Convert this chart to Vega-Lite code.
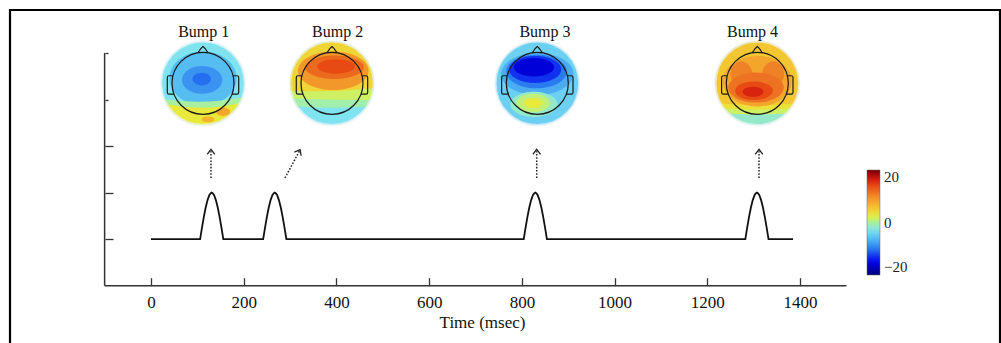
{
  "$schema": "https://vega.github.io/schema/vega-lite/v6.json",
  "width": 990,
  "height": 335,
  "autosize": {"type": "none"},
  "padding": {"left": 10, "top": 10, "right": 1, "bottom": -2},
  "background": "white",
  "config": {"view": {"stroke": "#000", "strokeWidth": 2.2}, "font": "Liberation Serif"},
  "datasets": {
    "axisLines": [
      {"t": -100, "t2": 1500, "v": 0, "v2": 0},
      {"t": -100, "t2": -100, "v": 0, "v2": 5}
    ],
    "eeg": [
      {"t": 0, "v": 1},
      {"t": 106, "v": 1}, {"t": 110, "v": 1.25}, {"t": 114, "v": 1.48}, {"t": 118, "v": 1.68}, {"t": 122, "v": 1.84}, {"t": 126, "v": 1.95}, {"t": 129, "v": 1.99}, {"t": 131, "v": 2}, {"t": 133, "v": 1.99}, {"t": 136, "v": 1.95}, {"t": 140, "v": 1.84}, {"t": 144, "v": 1.68}, {"t": 148, "v": 1.48}, {"t": 152, "v": 1.25}, {"t": 156, "v": 1},
      {"t": 242, "v": 1}, {"t": 246, "v": 1.25}, {"t": 250, "v": 1.48}, {"t": 254, "v": 1.68}, {"t": 258, "v": 1.84}, {"t": 262, "v": 1.95}, {"t": 265, "v": 1.99}, {"t": 267, "v": 2}, {"t": 269, "v": 1.99}, {"t": 272, "v": 1.95}, {"t": 276, "v": 1.84}, {"t": 280, "v": 1.68}, {"t": 284, "v": 1.48}, {"t": 288, "v": 1.25}, {"t": 292, "v": 1},
      {"t": 804, "v": 1}, {"t": 808, "v": 1.25}, {"t": 812, "v": 1.48}, {"t": 816, "v": 1.68}, {"t": 820, "v": 1.84}, {"t": 824, "v": 1.95}, {"t": 827, "v": 1.99}, {"t": 829, "v": 2}, {"t": 831, "v": 1.99}, {"t": 834, "v": 1.95}, {"t": 838, "v": 1.84}, {"t": 842, "v": 1.68}, {"t": 846, "v": 1.48}, {"t": 850, "v": 1.25}, {"t": 854, "v": 1},
      {"t": 1282, "v": 1}, {"t": 1286, "v": 1.25}, {"t": 1290, "v": 1.48}, {"t": 1294, "v": 1.68}, {"t": 1298, "v": 1.84}, {"t": 1302, "v": 1.95}, {"t": 1305, "v": 1.99}, {"t": 1307, "v": 2}, {"t": 1309, "v": 1.99}, {"t": 1312, "v": 1.95}, {"t": 1316, "v": 1.84}, {"t": 1320, "v": 1.68}, {"t": 1324, "v": 1.48}, {"t": 1328, "v": 1.25}, {"t": 1332, "v": 1},
      {"t": 1385, "v": 1}
    ],
    "arrows": [
      {"bump": "Bump 1", "t": 129.4, "v": 2.314, "t2": 129.4, "v2": 2.89},
      {"bump": "Bump 2", "t": 289.0, "v": 2.314, "t2": 320.0, "v2": 2.89},
      {"bump": "Bump 3", "t": 832.0, "v": 2.314, "t2": 832.0, "v2": 2.89},
      {"bump": "Bump 4", "t": 1311.5, "v": 2.314, "t2": 1311.5, "v2": 2.89}
    ],
    "tips": [
      {"bump": "Bump 1", "t": 129.4, "v": 2.93, "dir": "up"},
      {"bump": "Bump 2", "t": 321.6, "v": 2.925, "dir": "diag"},
      {"bump": "Bump 3", "t": 832.0, "v": 2.93, "dir": "up"},
      {"bump": "Bump 4", "t": 1311.5, "v": 2.93, "dir": "up"}
    ],
    "heads": [
      {"bump": "Bump 1", "t": 112.2, "v": 4.349},
      {"bump": "Bump 2", "t": 390.4, "v": 4.349},
      {"bump": "Bump 3", "t": 833.3, "v": 4.349},
      {"bump": "Bump 4", "t": 1307.8, "v": 4.349}
    ],
    "labels": [
      {"label": "Bump 1", "t": 113.7, "v": 5.344},
      {"label": "Bump 2", "t": 402.7, "v": 5.344},
      {"label": "Bump 3", "t": 849.9, "v": 5.344},
      {"label": "Bump 4", "t": 1297.5, "v": 5.344}
    ],
    "maps": [
      {"bump": "Bump 1", "t": 112.2, "v": 4.349, "region": "disc", "amp": -3},
      {"bump": "Bump 1", "t": 112.2, "v": 4.349, "region": "b1b", "amp": -6},
      {"bump": "Bump 1", "t": 112.2, "v": 4.349, "region": "b1c", "amp": -8.5},
      {"bump": "Bump 1", "t": 112.2, "v": 4.349, "region": "b1d", "amp": -10.5},
      {"bump": "Bump 1", "t": 112.2, "v": 4.349, "region": "b1e", "amp": 0},
      {"bump": "Bump 1", "t": 112.2, "v": 4.349, "region": "b1f", "amp": 3},
      {"bump": "Bump 1", "t": 112.2, "v": 4.349, "region": "b1g", "amp": 8},
      {"bump": "Bump 1", "t": 112.2, "v": 4.349, "region": "b1h", "amp": 7},
      {"bump": "Bump 2", "t": 390.4, "v": 4.349, "region": "disc", "amp": -3},
      {"bump": "Bump 2", "t": 390.4, "v": 4.349, "region": "b2b", "amp": -0.5},
      {"bump": "Bump 2", "t": 390.4, "v": 4.349, "region": "b2c", "amp": 1.5},
      {"bump": "Bump 2", "t": 390.4, "v": 4.349, "region": "b2d", "amp": 4.5},
      {"bump": "Bump 2", "t": 390.4, "v": 4.349, "region": "b2e", "amp": 9},
      {"bump": "Bump 2", "t": 390.4, "v": 4.349, "region": "b2f", "amp": 12},
      {"bump": "Bump 2", "t": 390.4, "v": 4.349, "region": "b2g", "amp": 14},
      {"bump": "Bump 3", "t": 833.3, "v": 4.349, "region": "disc", "amp": -4.5},
      {"bump": "Bump 3", "t": 833.3, "v": 4.349, "region": "b3b", "amp": -7},
      {"bump": "Bump 3", "t": 833.3, "v": 4.349, "region": "b3c", "amp": -10},
      {"bump": "Bump 3", "t": 833.3, "v": 4.349, "region": "b3d", "amp": -13},
      {"bump": "Bump 3", "t": 833.3, "v": 4.349, "region": "b3e", "amp": -16},
      {"bump": "Bump 3", "t": 833.3, "v": 4.349, "region": "b3f", "amp": -1.5},
      {"bump": "Bump 3", "t": 833.3, "v": 4.349, "region": "b3g", "amp": 1},
      {"bump": "Bump 3", "t": 833.3, "v": 4.349, "region": "b3h", "amp": 3},
      {"bump": "Bump 4", "t": 1307.8, "v": 4.349, "region": "disc", "amp": -1.5},
      {"bump": "Bump 4", "t": 1307.8, "v": 4.349, "region": "b4b", "amp": 1.5},
      {"bump": "Bump 4", "t": 1307.8, "v": 4.349, "region": "b4c", "amp": 3.5},
      {"bump": "Bump 4", "t": 1307.8, "v": 4.349, "region": "b4d", "amp": 5.5},
      {"bump": "Bump 4", "t": 1307.8, "v": 4.349, "region": "b4e", "amp": 8},
      {"bump": "Bump 4", "t": 1307.8, "v": 4.349, "region": "b4l1", "amp": 10.5},
      {"bump": "Bump 4", "t": 1307.8, "v": 4.349, "region": "b4l2", "amp": 10.5},
      {"bump": "Bump 4", "t": 1307.8, "v": 4.349, "region": "b4f", "amp": 11.5},
      {"bump": "Bump 4", "t": 1307.8, "v": 4.349, "region": "b4g", "amp": 14},
      {"bump": "Bump 4", "t": 1307.8, "v": 4.349, "region": "b4h", "amp": 16}
    ]
  },
  "encoding": {
    "x": {
      "field": "t", "type": "quantitative",
      "scale": {"domain": [-304.1, 1831.3], "nice": false, "zero": false},
      "axis": {
        "orient": "bottom", "offset": -59.3, "values": [0, 200, 400, 600, 800, 1000, 1200, 1400], "format": "d",
        "domain": false, "grid": false, "tickSize": -8, "tickWidth": 1.3, "tickColor": "#333",
        "labelFont": "Liberation Serif", "labelFontSize": 17, "labelColor": "#111", "labelPadding": 17, "labelFlush": false,
        "title": "Time (msec)", "titleFont": "Liberation Serif", "titleFontSize": 17, "titleFontWeight": "normal", "titleColor": "#111",
        "titleX": 472, "titleY": 42, "titleBaseline": "alphabetic"
      }
    },
    "y": {
      "field": "v", "type": "quantitative",
      "scale": {"domain": [-1.274, 5.924], "nice": false, "zero": false},
      "axis": {
        "orient": "left", "offset": -95, "values": [1, 2, 3, 4, 5], "labels": false, "domain": false, "grid": false, "title": null,
        "tickSize": {"condition": {"test": "datum.value >= 4", "value": -3}, "value": -8}, "tickWidth": 1.3, "tickColor": "#333"
      }
    }
  },
  "layer": [
    {
      "data": {"name": "axisLines"},
      "mark": {"type": "rule", "color": "#333", "strokeWidth": 1.5},
      "encoding": {"x2": {"field": "t2"}, "y2": {"field": "v2"}}
    },
    {
      "data": {"name": "eeg"},
      "mark": {"type": "line", "color": "#111", "strokeWidth": 1.8},
      "encoding": {}
    },
    {
      "data": {"name": "arrows"},
      "mark": {"type": "rule", "color": "#222", "strokeWidth": 1.5, "strokeDash": [1.6, 1.6]},
      "encoding": {"x2": {"field": "t2"}, "y2": {"field": "v2"}}
    },
    {
      "data": {"name": "tips"},
      "transform": [{"filter": "datum.dir === 'up'"}],
      "mark": {"type": "point", "shape": "M-1,1.3 L0,0 L1,1.3", "filled": false, "size": 58, "stroke": "#222", "strokeWidth": 1.3, "opacity": 1},
      "encoding": {}
    },
    {
      "data": {"name": "tips"},
      "transform": [{"filter": "datum.dir === 'diag'"}],
      "mark": {"type": "point", "shape": "M-1,1.3 L0,0 L1,1.3", "filled": false, "size": 58, "stroke": "#222", "strokeWidth": 1.3, "angle": 28, "opacity": 1},
      "encoding": {}
    },
    {
      "data": {"name": "maps"},
      "mark": {"type": "point", "filled": true, "size": 7056, "strokeWidth": 0, "opacity": 1},
      "encoding": {
        "shape": {
          "field": "region", "type": "nominal", "legend": null,
          "scale": {
            "domain": ["disc", "b1b", "b1c", "b1d", "b1e", "b1f", "b1g", "b1h", "b2b", "b2c", "b2d", "b2e", "b2f", "b2g", "b3b", "b3c", "b3d", "b3e", "b3f", "b3g", "b3h", "b4b", "b4c", "b4d", "b4e", "b4l1", "b4l2", "b4f", "b4g", "b4h"],
            "range": [
              "M1,0 A1,1 0 1,1 -1,0 A1,1 0 1,1 1,0 Z",
              "M0.8,-0.12 A0.8,0.64 0 1,1 -0.8,-0.12 A0.8,0.64 0 1,1 0.8,-0.12 Z",
              "M0.46,-0.08 A0.48,0.33 0 1,1 -0.5,-0.08 A0.48,0.33 0 1,1 0.46,-0.08 Z",
              "M0.19,-0.1 A0.22,0.15 0 1,1 -0.25,-0.1 A0.22,0.15 0 1,1 0.19,-0.1 Z",
              "M-0.925,0.38 Q0,0.52 0.944,0.33 A1,1 0 0,1 -0.925,0.38 Z",
              "M-0.866,0.5 Q0,0.68 0.883,0.47 A1,1 0 0,1 -0.866,0.5 Z",
              "M0.65,0.68 A0.17,0.1 0 1,1 0.31,0.68 A0.17,0.1 0 1,1 0.65,0.68 Z",
              "M0.27,0.86 A0.15,0.07 0 1,1 -0.03,0.86 A0.15,0.07 0 1,1 0.27,0.86 Z",
              "M-0.835,0.55 Q0,0.62 0.835,0.55 A1,1 0 1,0 -0.835,0.55 Z",
              "M-0.933,0.36 Q0,0.4 0.917,0.4 A1,1 0 1,0 -0.933,0.36 Z",
              "M-0.984,0.18 Q0,0.22 0.993,0.12 A1,1 0 1,0 -0.984,0.18 Z",
              "M0.87,-0.3 A0.84,0.46 0 1,1 -0.81,-0.3 A0.84,0.46 0 1,1 0.87,-0.3 Z",
              "M0.76,-0.38 A0.7,0.28 0 1,1 -0.64,-0.38 A0.7,0.28 0 1,1 0.76,-0.38 Z",
              "M0.55,-0.4 A0.45,0.17 0 1,1 -0.35,-0.4 A0.45,0.17 0 1,1 0.55,-0.4 Z",
              "M0.86,-0.22 A0.86,0.5 0 1,1 -0.86,-0.22 A0.86,0.5 0 1,1 0.86,-0.22 Z",
              "M0.7,-0.28 A0.72,0.4 0 1,1 -0.74,-0.28 A0.72,0.4 0 1,1 0.7,-0.28 Z",
              "M0.57,-0.33 A0.62,0.32 0 1,1 -0.67,-0.33 A0.62,0.32 0 1,1 0.57,-0.33 Z",
              "M0.4,-0.38 A0.48,0.22 0 1,1 -0.56,-0.38 A0.48,0.22 0 1,1 0.4,-0.38 Z",
              "M0.48,0.5 A0.56,0.3 0 1,1 -0.64,0.5 A0.56,0.3 0 1,1 0.48,0.5 Z",
              "M0.3,0.47 A0.4,0.22 0 1,1 -0.5,0.47 A0.4,0.22 0 1,1 0.3,0.47 Z",
              "M0.12,0.47 A0.22,0.12 0 1,1 -0.32,0.47 A0.22,0.12 0 1,1 0.12,0.47 Z",
              "M-0.694,0.72 Q0,0.76 0.694,0.72 A1,1 0 1,0 -0.694,0.72 Z",
              "M-0.8,0.6 Q0,0.66 0.8,0.6 A1,1 0 1,0 -0.8,0.6 Z",
              "M-0.877,0.48 Q0,0.56 0.877,0.48 A1,1 0 1,0 -0.877,0.48 Z",
              "M0.82,-0.05 A0.82,0.6 0 1,1 -0.82,-0.05 A0.82,0.6 0 1,1 0.82,-0.05 Z",
              "M-0.12,-0.22 A0.26,0.3 0 1,1 -0.64,-0.22 A0.26,0.3 0 1,1 -0.12,-0.22 Z",
              "M0.64,-0.22 A0.26,0.3 0 1,1 0.12,-0.22 A0.26,0.3 0 1,1 0.64,-0.22 Z",
              "M0.63,0.1 A0.66,0.36 0 1,1 -0.69,0.1 A0.66,0.36 0 1,1 0.63,0.1 Z",
              "M0.37,0.18 A0.45,0.22 0 1,1 -0.53,0.18 A0.45,0.22 0 1,1 0.37,0.18 Z",
              "M0.15,0.2 A0.25,0.12 0 1,1 -0.35,0.2 A0.25,0.12 0 1,1 0.15,0.2 Z"
            ]
          }
        },
        "color": {
          "field": "amp", "type": "quantitative",
          "scale": {
            "domain": [-20, -15, -10, -6, -3, 0, 2.5, 6, 10, 14, 17, 20],
            "range": ["#00007a", "#0000f0", "#2a7af0", "#56bdf3", "#7fe3f0", "#a8f0a0", "#e6f03c", "#f6c030", "#f08a28", "#e84a14", "#d01010", "#6e0000"],
            "interpolate": "rgb", "clamp": true
          },
          "legend": {
            "orient": "none", "legendX": 857, "legendY": 160, "title": null, "padding": 0,
            "gradientLength": 105, "gradientThickness": 13, "values": [-20, 0, 20],
            "labelFont": "Liberation Serif", "labelFontSize": 15, "labelColor": "#222", "labelOffset": 4,
            "gradientStrokeColor": "#666", "gradientStrokeWidth": 0.5,
            "encode": {"labels": {"enter": {"baseline": {"value": "middle"}}, "update": {"baseline": {"value": "middle"}}}}
          }
        }
      }
    },
    {
      "data": {"name": "heads"},
      "mark": {"type": "point", "shape": "circle", "filled": false, "size": 7056, "stroke": "#eef5f8", "strokeWidth": 2.5, "opacity": 0.7},
      "encoding": {}
    },
    {
      "data": {"name": "heads"},
      "mark": {
        "type": "point", "filled": false, "size": 7056, "stroke": "#1a1a1a", "strokeWidth": 1.2, "opacity": 1,
        "shape": "M0.738,0 A0.738,0.738 0 1,1 -0.738,0 A0.738,0.738 0 1,1 0.738,0 M-0.12,-0.728 Q-0.05,-0.84 0,-0.875 Q0.05,-0.84 0.12,-0.728 M-0.716,-0.18 L-0.81,-0.18 Q-0.85,-0.18 -0.85,-0.14 L-0.85,0.22 Q-0.85,0.26 -0.81,0.26 L-0.7,0.26 M0.716,-0.18 L0.81,-0.18 Q0.85,-0.18 0.85,-0.14 L0.85,0.22 Q0.85,0.26 0.81,0.26 L0.7,0.26"
      },
      "encoding": {}
    },
    {
      "data": {"name": "labels"},
      "mark": {"type": "text", "font": "Liberation Serif", "fontSize": 16, "color": "#111", "align": "center", "baseline": "alphabetic"},
      "encoding": {"text": {"field": "label"}}
    }
  ]
}
